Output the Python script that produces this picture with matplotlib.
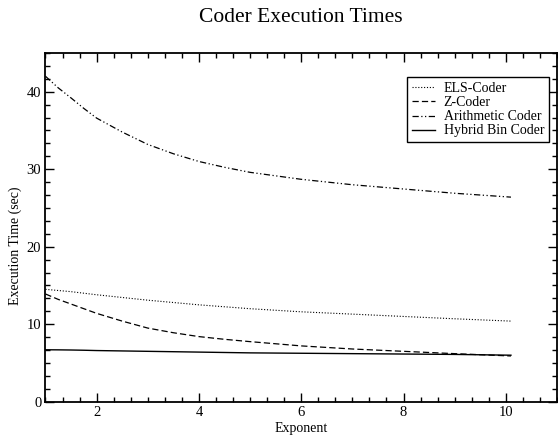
import matplotlib
matplotlib.use("Agg")
import matplotlib.pyplot as plt
from matplotlib.ticker import MultipleLocator

plt.rcParams["font.family"] = ["Liberation Serif", "DejaVu Serif"]

# values
exponent = [1.0, 1.25, 1.5, 1.75, 2.0, 2.5, 3.0, 3.5, 4.0, 4.5, 5.0, 6.0, 7.0, 8.0, 9.0, 10.1]
els_coder = [14.5, 14.35, 14.2, 14.0, 13.8, 13.45, 13.1, 12.8, 12.5, 12.25, 12.0, 11.6, 11.3, 11.0, 10.7, 10.4]
z_coder = [13.9, 13.2, 12.6, 12.0, 11.4, 10.4, 9.5, 8.9, 8.4, 8.05, 7.75, 7.2, 6.8, 6.5, 6.2, 5.9]
arith_coder = [42.0, 40.5, 39.2, 37.85, 36.6, 34.8, 33.2, 32.0, 31.0, 30.25, 29.6, 28.7, 28.0, 27.45, 26.9, 26.4]
hybrid_coder = [6.7, 6.69, 6.67, 6.64, 6.6, 6.55, 6.5, 6.45, 6.4, 6.35, 6.3, 6.25, 6.2, 6.15, 6.1, 6.0]
labels = ["ELS-Coder", "Z-Coder", "Arithmetic Coder", "Hybrid Bin Coder"]

fig = plt.figure(figsize=(5.58, 4.36), dpi=100)
ax = fig.add_axes([0.0815, 0.0787, 0.9167, 0.7997])

ax.plot(exponent, els_coder, color="k", lw=0.8, ls=(0, (1, 1.6)), label=labels[0])
ax.plot(exponent, z_coder, color="k", lw=0.9, ls=(0, (5, 2.5)), label=labels[1])
ax.plot(exponent, arith_coder, color="k", lw=0.9, ls=(0, (5, 2, 1, 2, 1, 2)), label=labels[2])
ax.plot(exponent, hybrid_coder, color="k", lw=1.0, ls="-", label=labels[3])

ax.set_xlim(1, 11)
ax.set_ylim(0, 45)
ax.xaxis.set_major_locator(MultipleLocator(2))
ax.xaxis.set_minor_locator(MultipleLocator(1 / 3))
ax.yaxis.set_major_locator(MultipleLocator(10))
ax.yaxis.set_minor_locator(MultipleLocator(10 / 6))
ax.tick_params(which="both", direction="in", top=True, right=True, width=1.0,
               labelsize=10.5, pad=3)
ax.tick_params(which="major", length=6.5)
ax.tick_params(which="minor", length=3.5)
for s in ax.spines.values():
    s.set_linewidth(1.3)

leg = ax.legend(loc="upper left", bbox_to_anchor=(406.7 / 558, 1 - 77.3 / 436),
                bbox_transform=fig.transFigure, borderaxespad=0, fontsize=10,
                handlelength=1.7, handletextpad=0.6, labelspacing=0.08,
                borderpad=0.35, fancybox=False, framealpha=1)
leg.get_frame().set_edgecolor("k")
leg.get_frame().set_linewidth(1.0)

fig.text(301 / 558, 1 - 22 / 436, "Coder Execution Times", ha="center",
         va="baseline", fontsize=15.5)
fig.text(301 / 558, 1 - 428 / 436, "Exponent", ha="center", va="center", fontsize=10)
fig.text(15 / 558, 1 - 246 / 436, "Execution Time (sec)", ha="center", va="center",
         rotation=90, fontsize=10)

fig.savefig("out.png", dpi=100)
